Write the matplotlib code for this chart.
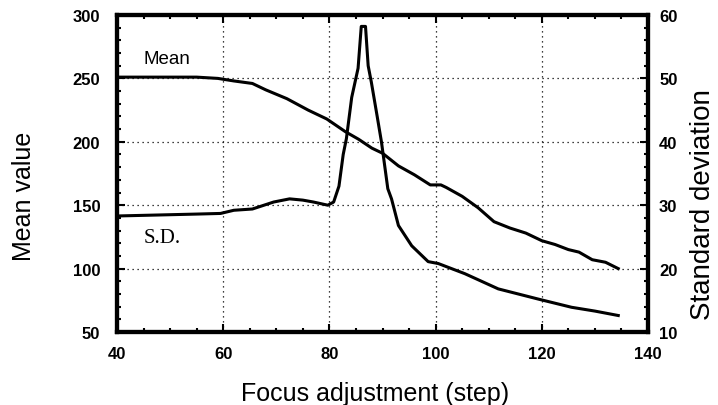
import matplotlib
matplotlib.use("Agg")
import matplotlib.pyplot as plt
from matplotlib.ticker import MultipleLocator

# Data
mean_steps = [40, 45, 50, 55, 59, 62, 65.5, 68, 72, 76, 79.5, 83, 85.5, 88, 90, 93, 96, 99, 101, 102, 105, 108, 111, 114, 117, 120, 122.5, 125, 127, 129.5, 132, 134.4]
mean_vals = [251, 251, 251, 251, 250, 248, 246, 241, 234, 225, 218, 208, 202, 195, 191, 181, 174, 166, 166, 164, 157, 148, 137, 132, 128, 122, 119, 115, 113, 107, 105, 100]

sd_steps = [40, 45, 50, 55, 59.5, 62, 65.5, 69.5, 72.5, 75, 77, 79.7, 80.8, 81.8, 82.6, 83.2, 84.2, 85.4, 86.0, 86.8, 87.3, 87.9, 89.0, 89.8, 91.0, 91.7, 93.0, 95.5, 98.6, 100.5, 105.5, 111.8, 119.3, 125.6, 130, 134.4]
sd_vals = [28.3, 28.4, 28.5, 28.6, 28.7, 29.2, 29.4, 30.5, 31.0, 30.8, 30.5, 30.0, 30.5, 33, 38, 40.5, 47, 51.6, 58.2, 58.2, 52, 49.4, 44, 40, 32.6, 31, 26.8, 23.6, 21.1, 20.8, 19.2, 16.8, 15.2, 13.9, 13.3, 12.6]

x_ticks = [40, 60, 80, 100, 120, 140]
left_ticks = [50, 100, 150, 200, 250, 300]
right_ticks = [10, 20, 30, 40, 50, 60]

W, H = 718, 406
fig = plt.figure(figsize=(W / 100, H / 100), dpi=100)
ax = fig.add_axes([117 / W, 1 - 333 / H, (648 - 117) / W, (333 - 16) / H])
ax2 = ax.twinx()

ax.plot(mean_steps, mean_vals, color="black", lw=2.2, solid_joinstyle="round")
ax2.plot(sd_steps, sd_vals, color="black", lw=2.2, solid_joinstyle="round")

ax.set_xlim(40, 140)
ax.set_ylim(50, 300)
ax2.set_ylim(10, 60)

ax.set_xticks(x_ticks)
ax.set_yticks(left_ticks)
ax2.set_yticks(right_ticks)
ax.xaxis.set_minor_locator(MultipleLocator(5))
ax.yaxis.set_minor_locator(MultipleLocator(10))
ax2.yaxis.set_minor_locator(MultipleLocator(2))

bold = dict(family="Liberation Sans", weight="bold", size=12)
ax.set_xticklabels([str(v) for v in x_ticks], fontdict=bold)
ax.set_yticklabels([str(v) for v in left_ticks], fontdict=bold)
ax2.set_yticklabels([str(v) for v in right_ticks], fontdict=bold)

ax.tick_params(which="both", direction="in", top=True, right=False, width=1.5)
ax.tick_params(which="major", length=6)
ax.tick_params(axis="x", which="major", pad=10)
ax.tick_params(axis="y", which="major", pad=12)
ax.tick_params(which="minor", length=3)
ax2.tick_params(which="both", direction="in", width=1.5)
ax2.tick_params(which="major", length=6, pad=8)
ax2.tick_params(which="minor", length=3)

ax.grid(True, which="major", linestyle=(0, (1, 3)), color="black", lw=0.9)

for sp in ax.spines.values():
    sp.set_linewidth(3)
for sp in ax2.spines.values():
    sp.set_linewidth(3)

fig.text(375.5 / W, 1 - 401 / H, "Focus adjustment (step)", family="Liberation Sans",
         fontsize=18, ha="center", va="baseline")
fig.text(24 / W, 1 - 196 / H, "Mean value", family="Liberation Sans",
         fontsize=18, rotation=90, ha="center", va="center")
fig.text(703 / W, 1 - 205 / H, "Standard deviation", family="Liberation Sans",
         fontsize=20, rotation=90, ha="center", va="center")

ax.text(44.9, 262, "Mean", family="Liberation Sans", fontsize=13.5)
ax.text(45, 121, "S.D.", family="Liberation Serif", fontsize=15)

fig.savefig("out.png", dpi=100)
